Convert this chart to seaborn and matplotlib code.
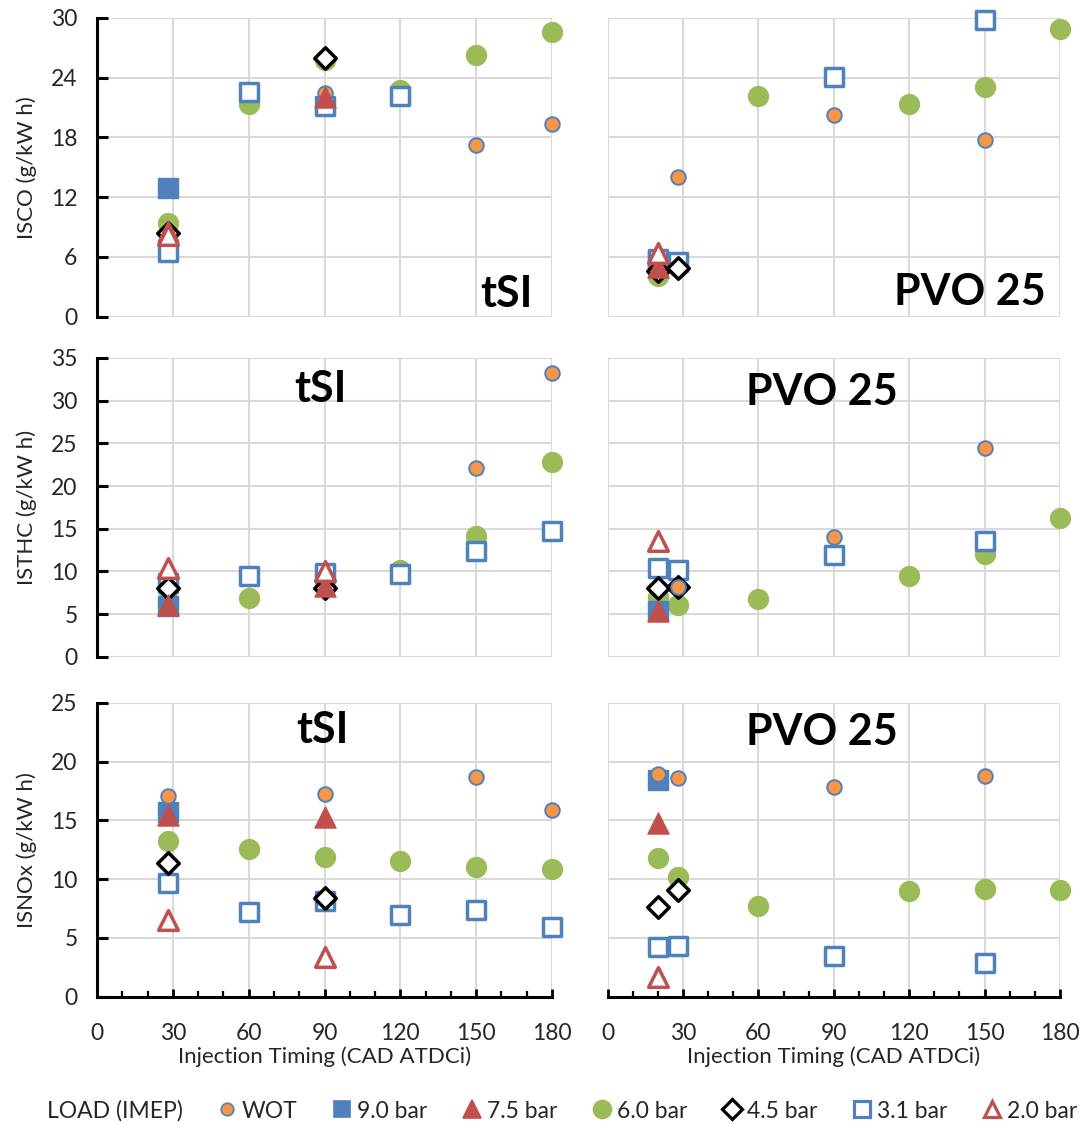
import matplotlib
matplotlib.use("Agg")
import matplotlib.pyplot as plt
import seaborn as sns
import pandas as pd
from matplotlib.lines import Line2D
from matplotlib.ticker import MultipleLocator

sns.set_theme(style="white")
plt.rcParams['font.family'] = ['Lato', 'DejaVu Sans']

# ---------------- data ----------------
loads = ["WOT", "9.0 bar", "7.5 bar", "6.0 bar", "4.5 bar", "3.1 bar", "2.0 bar"]
x_ticks = [0, 30, 60, 90, 120, 150, 180]

isco_tsi = {
    "WOT":     ([90, 150, 180], [22.5, 17.2, 19.4]),
    "9.0 bar": ([28], [12.9]),
    "7.5 bar": ([28, 90], [8.6, 22.1]),
    "6.0 bar": ([28, 60, 90, 120, 150, 180], [9.45, 21.4, 25.8, 22.8, 26.3, 28.6]),
    "4.5 bar": ([28, 90], [8.4, 26.0]),
    "3.1 bar": ([28, 60, 90, 120], [6.5, 22.6, 21.2, 22.2]),
    "2.0 bar": ([28], [8.2]),
}
isco_pvo = {
    "WOT":     ([28, 90, 150], [14.0, 20.3, 17.7]),
    "9.0 bar": ([20], [5.6]),
    "7.5 bar": ([20], [5.0]),
    "6.0 bar": ([20, 28, 60, 120, 150, 180], [4.1, 5.0, 22.2, 21.4, 23.1, 28.9]),
    "4.5 bar": ([20, 28], [4.6, 4.9]),
    "3.1 bar": ([20, 28, 90, 150], [5.8, 5.5, 24.1, 29.8]),
    "2.0 bar": ([20], [6.4]),
}
isthc_tsi = {
    "WOT":     ([90, 150, 180], [9.5, 22.1, 33.3]),
    "9.0 bar": ([28], [5.9]),
    "7.5 bar": ([28, 90], [6.0, 8.3]),
    "6.0 bar": ([28, 60, 90, 120, 150, 180], [6.7, 6.9, 8.3, 10.2, 14.1, 22.8]),
    "4.5 bar": ([28, 90], [8.0, 8.1]),
    "3.1 bar": ([28, 60, 90, 120, 150, 180], [8.6, 9.45, 9.8, 9.65, 12.4, 14.7]),
    "2.0 bar": ([28, 90], [10.35, 10.0]),
}
isthc_pvo = {
    "WOT":     ([28, 90, 150], [8.2, 14.05, 24.4]),
    "9.0 bar": ([20], [5.4]),
    "7.5 bar": ([20], [5.3]),
    "6.0 bar": ([20, 28, 60, 120, 150, 180], [7.0, 6.05, 6.75, 9.45, 12.0, 16.3]),
    "4.5 bar": ([20, 28], [8.0, 8.2]),
    "3.1 bar": ([20, 28, 90, 150], [10.35, 10.15, 11.9, 13.55]),
    "2.0 bar": ([20], [13.5]),
}
isnox_tsi = {
    "WOT":     ([28, 90, 150, 180], [17.05, 17.2, 18.7, 15.9]),
    "9.0 bar": ([28], [15.7]),
    "7.5 bar": ([28, 90], [15.45, 15.3]),
    "6.0 bar": ([28, 60, 90, 120, 150, 180], [13.2, 12.6, 11.9, 11.5, 11.0, 10.85]),
    "4.5 bar": ([28, 90], [11.35, 8.4]),
    "3.1 bar": ([28, 60, 90, 120, 150, 180], [9.65, 7.2, 8.1, 6.95, 7.4, 5.9]),
    "2.0 bar": ([28, 90], [6.5, 3.4]),
}
isnox_pvo = {
    "WOT":     ([20, 28, 90, 150], [18.9, 18.6, 17.8, 18.8]),
    "9.0 bar": ([20], [18.4]),
    "7.5 bar": ([20], [14.75]),
    "6.0 bar": ([20, 28, 60, 120, 150, 180], [11.8, 10.2, 7.7, 9.0, 9.15, 9.1]),
    "4.5 bar": ([20, 28], [7.6, 9.1]),
    "3.1 bar": ([20, 28, 90, 150], [4.25, 4.35, 3.5, 2.85]),
    "2.0 bar": ([20], [1.7]),
}

y_labels = ["ISCO (g/kW h)", "ISTHC (g/kW h)", "ISNOx (g/kW h)"]
y_limits = [30, 35, 25]
y_steps = [6, 5, 5]
engine_labels = ["tSI", "PVO 25"]

# ---------------- styles ----------------
BLUE = "#4F81BD"
RED = "#C0504D"
GREEN = "#9BBB59"
ORANGE = "#F79646"
styles = {
    "WOT":     dict(marker="o", s=110, color=ORANGE, edgecolor=BLUE, linewidth=1.4),
    "9.0 bar": dict(marker="s", s=190, color=BLUE, edgecolor=BLUE, linewidth=1.0),
    "7.5 bar": dict(marker="^", s=230, color=RED, edgecolor=RED, linewidth=1.0),
    "6.0 bar": dict(marker="o", s=205, color=GREEN, edgecolor=GREEN, linewidth=1.0),
    "4.5 bar": dict(marker="D", s=120, color="white", edgecolor="black", linewidth=2.5),
    "3.1 bar": dict(marker="s", s=175, color="white", edgecolor=BLUE, linewidth=2.5),
    "2.0 bar": dict(marker="^", s=200, color="white", edgecolor=RED, linewidth=2.5),
}
draw_order = ["6.0 bar", "9.0 bar", "3.1 bar", "4.5 bar", "WOT", "7.5 bar", "2.0 bar"]

W, H = 1089, 1124
fig = plt.figure(figsize=(W / 100, H / 100), dpi=100)

col_px = [(97, 552), (607.7, 1060)]
row_px = [(18, 316.7), (358, 656.7), (702.7, 996.7)]

panels = [[isco_tsi, isco_pvo], [isthc_tsi, isthc_pvo], [isnox_tsi, isnox_pvo]]
label_pos = [[(506, 307), (970, 305)], [(320, 402), (822, 405)], [(322, 743), (822, 745)]]

TICK_FS = 16.5
LAB_FS = 16
for r in range(3):
    for c in range(2):
        x0, x1 = col_px[c]
        y0, y1 = row_px[r]
        ax = fig.add_axes([x0 / W, 1 - y1 / H, (x1 - x0) / W, (y1 - y0) / H])
        ax.set_facecolor("white")
        data = panels[r][c]
        for name in draw_order:
            xs, ys = data[name]
            df = pd.DataFrame({"x": xs, "y": ys})
            st = styles[name]
            sns.scatterplot(data=df, x="x", y="y", ax=ax, marker=st["marker"], s=st["s"],
                            color=st["color"], edgecolor=st["edgecolor"],
                            linewidth=st["linewidth"], clip_on=False, zorder=3, legend=False)
        ax.set_xlim(0, 180)
        ax.set_ylim(0, y_limits[r])
        ax.set_xticks(x_ticks)
        ax.yaxis.set_major_locator(MultipleLocator(y_steps[r]))
        ax.grid(True, color="#D9D9D9", linewidth=1.5)
        ax.set_axisbelow(True)
        for sp in ["top", "right"]:
            ax.spines[sp].set_visible(False)
        ax.set_xlabel("")
        ax.set_ylabel("")
        # y axis
        if c == 0:
            ax.spines["left"].set_color("black")
            ax.spines["left"].set_linewidth(2.2)
            ax.tick_params(axis="y", direction="in", length=8, width=2.2, color="black",
                           labelsize=TICK_FS, pad=14, left=True)
            ax.set_ylabel(y_labels[r], fontsize=LAB_FS, labelpad=10)
        else:
            ax.spines["left"].set_visible(False)
            ax.tick_params(axis="y", left=False, labelleft=False)
        # x axis
        if r == 2:
            ax.spines["bottom"].set_color("black")
            ax.spines["bottom"].set_linewidth(2.2)
            ax.xaxis.set_minor_locator(MultipleLocator(10))
            ax.tick_params(axis="x", which="major", direction="in", length=6, width=2.0,
                           color="black", labelsize=TICK_FS, pad=19, bottom=True)
            ax.tick_params(axis="x", which="minor", direction="in", length=4, width=1.6,
                           color="black", bottom=True)
            ax.set_xlabel("Injection Timing (CAD ATDCi)", fontsize=LAB_FS, labelpad=2)
        else:
            ax.spines["bottom"].set_visible(False)
            ax.tick_params(axis="x", bottom=False, labelbottom=False)
        lx, ly = label_pos[r][c]
        fig.text(lx / W, 1 - ly / H, engine_labels[c], fontsize=31, fontweight="bold",
                 ha="center", va="baseline", color="black")

# ---------------- legend ----------------
handles = []
for name in loads:
    st = styles[name]
    ms = {"WOT": 9, "9.0 bar": 12, "7.5 bar": 13, "6.0 bar": 13, "4.5 bar": 10,
          "3.1 bar": 11, "2.0 bar": 11}[name]
    mew = 1.2 if name in ("WOT", "9.0 bar", "7.5 bar", "6.0 bar") else 2.3
    handles.append(Line2D([], [], linestyle="none", marker=st["marker"], markersize=ms,
                          markerfacecolor=st["color"], markeredgecolor=st["edgecolor"],
                          markeredgewidth=mew, label=name))
fig.text(47 / W, 1 - 1111 / H, "LOAD (IMEP)", fontsize=TICK_FS, ha="left", va="center")
fig.legend(handles=handles, loc="center left", bbox_to_anchor=(219 / W, 1 - 1111 / H),
           ncol=7, frameon=False, fontsize=TICK_FS, handlelength=0.7, handletextpad=0.3,
           columnspacing=1.6, borderpad=0, borderaxespad=0)

fig.savefig("out.png", dpi=100)
